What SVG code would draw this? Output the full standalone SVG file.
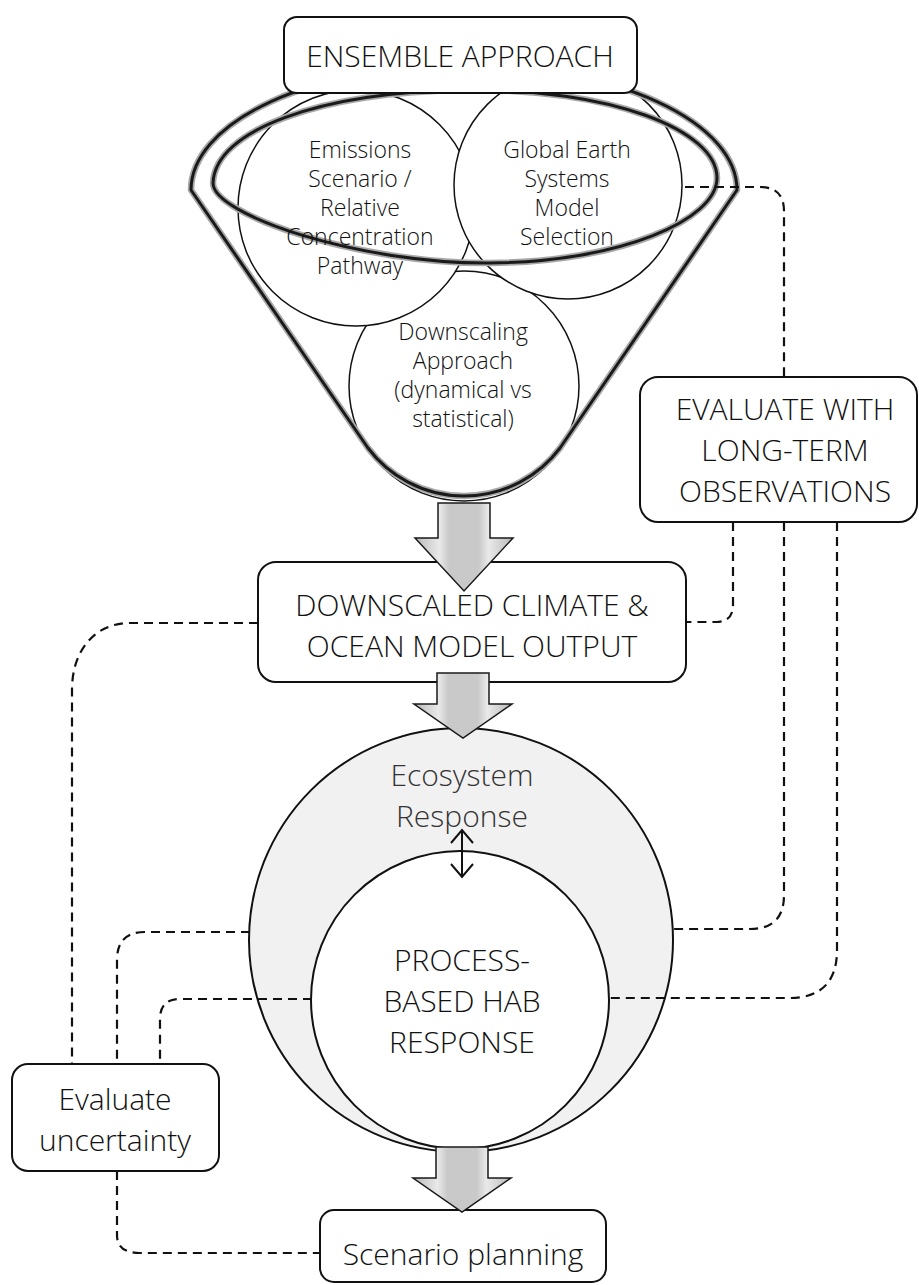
<svg xmlns="http://www.w3.org/2000/svg" width="919" height="1285" viewBox="0 0 919 1285">
<style>
text{font-family:"Open Sans","Liberation Sans",sans-serif;font-weight:300;fill:#111;text-anchor:middle}
.big{font-size:30px}
.sm{font-size:23px}
.box{fill:#fff;stroke:#111;stroke-width:2}
.circ{fill:#fff;stroke:#111;stroke-width:1.5}
.halo{fill:none;stroke:#a8a8a8;stroke-width:6.5;stroke-linejoin:round}
.core{fill:none;stroke:#1a1a1a;stroke-width:3;stroke-linejoin:round}
.dash{fill:none;stroke:#111;stroke-width:2.2;stroke-dasharray:9 6}
.arr{fill:url(#ag);stroke:#1a1a1a;stroke-width:1.5;stroke-linejoin:miter}
</style>
<defs>
<linearGradient id="ag" x1="0" y1="0" x2="1" y2="0">
<stop offset="0" stop-color="#b9b9b9"/>
<stop offset="0.25" stop-color="#e9e9e9"/>
<stop offset="0.35" stop-color="#c9c9c9"/>
<stop offset="0.65" stop-color="#c9c9c9"/>
<stop offset="0.75" stop-color="#e9e9e9"/>
<stop offset="1" stop-color="#b9b9b9"/>
</linearGradient>
<path id="blk" d="M -26,0 H 26 V 31 H 49 L 0 65 L -49 31 H -26 Z"/>
<path id="outerRim" d="M 191,190 A 273 125 0 0 1 737,190 L 560,448 A 120 120 0 0 1 368,448 Z"/>
<path id="innerRim" d="M 213,183 C 215,130 320,92 465,90 C 610,88 717,130 717,178 C 717,220 620,262 490,263 C 360,264 213,215 213,183 Z"/>
</defs>

<g id="funnel">
<circle id="c-downscaling" class="circ" cx="464" cy="386" r="115"/>
<circle id="c-emissions" class="circ" cx="356" cy="208" r="118"/>
<circle id="c-global" class="circ" cx="568" cy="185" r="114"/>
<use href="#outerRim" class="halo"/>
<use href="#outerRim" class="core"/>
<use href="#innerRim" class="halo"/>
<use href="#innerRim" class="core"/>
<g class="sm">
<text x="360" y="158">Emissions</text>
<text x="360" y="187">Scenario /</text>
<text x="360" y="216">Relative</text>
<text x="360" y="245">Concentration</text>
<text x="360" y="274">Pathway</text>
<text x="567" y="158">Global Earth</text>
<text x="567" y="187">Systems</text>
<text x="567" y="216">Model</text>
<text x="567" y="245">Selection</text>
<text x="463" y="340">Downscaling</text>
<text x="463" y="369">Approach</text>
<text x="463" y="398">(dynamical vs</text>
<text x="463" y="427">statistical)</text>
</g>
</g>

<g id="ensemble">
<rect class="box" x="284" y="17" width="353" height="76" rx="13"/>
<text class="big" x="460" y="67">ENSEMBLE APPROACH</text>
</g>

<g id="evaluate-obs">
<rect class="box" x="640" y="377" width="277" height="145" rx="18"/>
<text class="big" x="785" y="420">EVALUATE WITH</text>
<text class="big" x="785" y="461">LONG-TERM</text>
<text class="big" x="785" y="502">OBSERVATIONS</text>
</g>

<g id="downscaled">
<rect class="box" x="258" y="562" width="428" height="120" rx="18"/>
<text class="big" x="472" y="616">DOWNSCALED CLIMATE &amp;</text>
<text class="big" x="472" y="657">OCEAN MODEL OUTPUT</text>
</g>

<g id="ecosystem">
<circle cx="461" cy="940" r="212" fill="#f1f1f1" stroke="#111" stroke-width="2"/>
<text class="big" x="462" y="786" style="fill:#333">Ecosystem</text>
<text class="big" x="462" y="827" style="fill:#333">Response</text>
</g>

<g id="hab">
<circle cx="460" cy="1000" r="149" fill="#fff" stroke="#111" stroke-width="2"/>
<text class="big" x="462" y="971">PROCESS-</text>
<text class="big" x="462" y="1012">BASED HAB</text>
<text class="big" x="462" y="1053">RESPONSE</text>
</g>

<g id="uncertainty">
<rect class="box" x="12" y="1064" width="207" height="107" rx="16"/>
<text class="big" x="115" y="1110">Evaluate</text>
<text class="big" x="115" y="1151">uncertainty</text>
</g>

<g id="scenario">
<rect class="box" x="320" y="1210" width="286" height="72" rx="14"/>
<text class="big" x="463" y="1265">Scenario planning</text>
</g>

<g id="connectors">
<path class="arr" d="M 438,503 H 490 V 538 H 513 L 464 591 L 415 538 H 438 Z"/>
<use href="#blk" class="arr" x="463" y="673"/>
<use href="#blk" class="arr" x="462" y="1147"/>
<g fill="none" stroke="#111" stroke-width="2">
<line x1="462" y1="830" x2="462" y2="877"/>
<polyline points="451,843 462,830 473,843"/>
<polyline points="451,864 462,877 473,864"/>
</g>
<path class="dash" d="M 685,187 H 760 Q 784,187 784,211 V 377"/>
<path class="dash" d="M 733,522 V 605 Q 733,622 716,622 H 686"/>
<path class="dash" d="M 784,522 V 895 Q 784,929 750,929 H 673"/>
<path class="dash" d="M 837,522 V 950 Q 837,998 789,998 H 607"/>
<path class="dash" d="M 258,623 H 130 C 95,623 72,650 72,690 V 1064"/>
<path class="dash" d="M 250,932 H 145 Q 117,932 117,960 V 1064"/>
<path class="dash" d="M 312,999 H 180 Q 160,999 160,1019 V 1064"/>
<path class="dash" d="M 117,1171 V 1235 Q 117,1253 140,1253 H 320"/>
</g>
</svg>
